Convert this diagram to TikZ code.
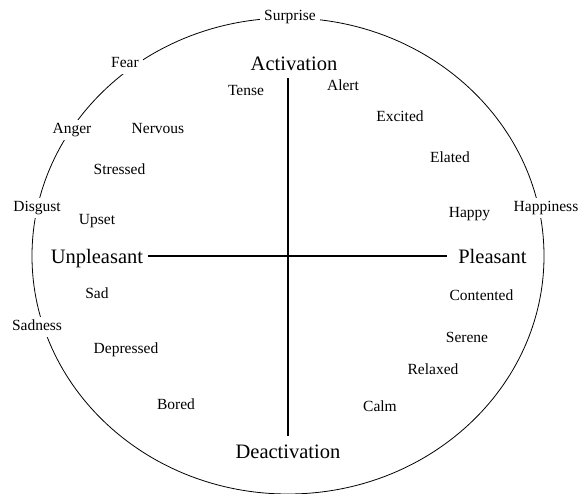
\documentclass[tikz,border=0pt]{standalone}
\usepackage{fontspec}
\setmainfont{Liberation Serif}

\begin{document}
\begin{tikzpicture}
  [x=1pt,y=-1pt,
   feel/.style={font=\fontsize{15.5}{18}\selectfont,text height=0.68em,text depth=0pt,inner sep=2pt},
   basic/.style={feel,fill=white,inner xsep=4pt,inner ysep=7pt},
   pole/.style={font=\fontsize{20.5}{24}\selectfont,text height=0.68em,text depth=0pt,inner sep=5pt}]
  \useasboundingbox (0,0) rectangle (578,494);
  \coordinate (c) at (288,256);
  \draw [line width=0.8pt] (c) ellipse [x radius=256, y radius=238];

  % basic emotions on the rim
  \node[basic] (surprise) at (290,17) {Surprise};
  \node[basic] (fear) at (125,64) {Fear};
  \node[basic] (anger) at (72,130) {Anger};
  \node[basic] (disgust) at (37,208) {Disgust};
  \node[basic] (sadness) at (37,327) {Sadness};
  \node[basic] (happiness) at (546,208) {Happiness};

  % the two axes
  \node[pole] (act) at (294,67.5) {Activation};
  \node[pole] (deact) at (288,455) {Deactivation};
  \node[pole] (unpl) at (97,260.5) {Unpleasant};
  \node[pole] (pleas) at (492.5,260.5) {Pleasant};

  % core affect
  \node[feel] (tense) at (246,92) {Tense};
  \node[feel] (alert) at (343,87) {Alert};
  \node[feel] (nervous) at (158,130) {Nervous};
  \node[feel] (excited) at (400,118) {Excited};
  \node[feel] (stressed) at (119.5,171) {Stressed};
  \node[feel] (elated) at (450,159) {Elated};
  \node[feel] (upset) at (97,221) {Upset};
  \node[feel] (happy) at (469.5,214) {Happy};
  \node[feel] (sad) at (97,295) {Sad};
  \node[feel] (contented) at (481.5,297) {Contented};
  \node[feel] (serene) at (467,339) {Serene};
  \node[feel] (depressed) at (126,350) {Depressed};
  \node[feel] (relaxed) at (433,371) {Relaxed};
  \node[feel] (bored) at (176,406) {Bored};
  \node[feel] (calm) at (380,408) {Calm};

  \draw [line width=1.5pt,shorten >=6pt] (unpl.east |- c) -- (pleas.west |- c);
  \draw [line width=1.5pt,shorten <=2pt,shorten >=10pt] (act.south -| c) -- (deact.north -| c);

\end{tikzpicture}
\end{document}
